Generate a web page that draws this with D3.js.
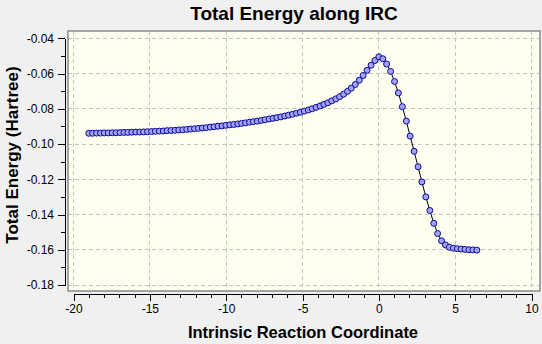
<!DOCTYPE html>
<html>
<head>
<meta charset="utf-8">
<script src="https://cdn.jsdelivr.net/npm/d3@7"></script>
<style>
  html, body { margin: 0; padding: 0; background: #f0f0f0; }
  svg { display: block; font-family: "Liberation Sans", Arial, sans-serif; }
</style>
</head>
<body>
<svg id="chart" width="542" height="344"></svg>
<script>
// IRC path: reaction coordinate (amu^1/2 bohr) and total energy (Hartree)
const ircCoord = [
  -19.00, -18.75, -18.49, -18.23, -17.98, -17.72, -17.46, -17.21, -16.95, -16.69,
  -16.44, -16.18, -15.92, -15.66, -15.41, -15.15, -14.89, -14.64, -14.38, -14.12,
  -13.87, -13.61, -13.35, -13.10, -12.84, -12.58, -12.33, -12.07, -11.81, -11.56,
  -11.30, -11.04, -10.79, -10.53, -10.27, -10.02, -9.76, -9.50, -9.24, -8.99,
  -8.73, -8.47, -8.22, -7.96, -7.70, -7.45, -7.19, -6.93, -6.68, -6.42,
  -6.16, -5.91, -5.65, -5.39, -5.14, -4.88, -4.62, -4.37, -4.11, -3.85,
  -3.60, -3.34, -3.08, -2.82, -2.57, -2.31, -2.05, -1.80, -1.54, -1.28,
  -1.03, -0.77, -0.51, -0.26, 0.00, 0.26, 0.51, 0.77, 1.03, 1.28,
  1.54, 1.80, 2.05, 2.31, 2.57, 2.82, 3.08, 3.34, 3.60, 3.85,
  4.11, 4.37, 4.62, 4.88, 5.14, 5.39, 5.65, 5.91, 6.16, 6.42
];
const totalEnergy = [
  -0.0939, -0.0939, -0.0938, -0.0938, -0.0937, -0.0937, -0.0936, -0.0936, -0.0935, -0.0934,
  -0.0934, -0.0933, -0.0932, -0.0932, -0.0931, -0.0930, -0.0929, -0.0928, -0.0927, -0.0926,
  -0.0924, -0.0923, -0.0922, -0.0920, -0.0919, -0.0917, -0.0915, -0.0913, -0.0911, -0.0909,
  -0.0907, -0.0904, -0.0902, -0.0899, -0.0897, -0.0894, -0.0891, -0.0889, -0.0886, -0.0883,
  -0.0880, -0.0876, -0.0873, -0.0870, -0.0866, -0.0862, -0.0858, -0.0854, -0.0850, -0.0846,
  -0.0841, -0.0836, -0.0831, -0.0825, -0.0820, -0.0813, -0.0807, -0.0800, -0.0792, -0.0784,
  -0.0775, -0.0766, -0.0755, -0.0744, -0.0731, -0.0717, -0.0701, -0.0683, -0.0662, -0.0638,
  -0.0611, -0.0582, -0.0553, -0.0526, -0.0505, -0.0516, -0.0546, -0.0588, -0.0645, -0.0710,
  -0.0788, -0.0870, -0.0955, -0.1041, -0.1129, -0.1215, -0.1300, -0.1377, -0.1450, -0.1508,
  -0.1549, -0.1573, -0.1586, -0.1591, -0.1594, -0.1596, -0.1598, -0.1600, -0.1601, -0.1602
];

// axis ticks
const xTicks = [-20, -15, -10, -5, 0, 5, 10];
const xMinorTicks = d3.range(-20, 11, 1);
const yTicks = [-0.04, -0.06, -0.08, -0.10, -0.12, -0.14, -0.16, -0.18];
const yMinorTicks = [-0.04, -0.05, -0.06, -0.07, -0.08, -0.09, -0.10, -0.11, -0.12, -0.13, -0.14, -0.15, -0.16, -0.17, -0.18];

const chartTitle = "Total Energy along IRC";
const xTitle = "Intrinsic Reaction Coordinate";
const yTitle = "Total Energy (Hartree)";

const points = ircCoord.map((c, i) => ({ c, e: totalEnergy[i] }));

const svg = d3.select("#chart");

const x = d3.scaleLinear().domain([-20, 10]).range([73.5, 531.5]);
const y = d3.scaleLinear().domain([-0.18, -0.04]).range([285, 38.3]);

// plot frame
const frame = { left: 68, top: 31, right: 540, bottom: 291 };
svg.append("rect")
  .attr("x", frame.left).attr("y", frame.top)
  .attr("width", frame.right - frame.left)
  .attr("height", frame.bottom - frame.top)
  .attr("fill", "#fffff0");

// dashed grid
const grid = svg.append("g")
  .attr("stroke", "#c4c4c4")
  .attr("stroke-width", 1)
  .attr("stroke-dasharray", "4,3")
  .attr("shape-rendering", "crispEdges");
grid.selectAll("line.v").data(xTicks).join("line")
  .attr("class", "v")
  .attr("x1", d => x(d)).attr("x2", d => x(d))
  .attr("y1", frame.top).attr("y2", frame.bottom);
grid.selectAll("line.h").data(yTicks).join("line")
  .attr("class", "h")
  .attr("x1", frame.left).attr("x2", frame.right)
  .attr("y1", d => y(d)).attr("y2", d => y(d));

svg.append("rect")
  .attr("x", frame.left).attr("y", frame.top)
  .attr("width", frame.right - frame.left)
  .attr("height", frame.bottom - frame.top)
  .attr("fill", "none")
  .attr("stroke", "#8a8a8a")
  .attr("stroke-width", 1.5);

// energy curve
const line = d3.line().x(d => x(d.c)).y(d => y(d.e));
svg.append("path")
  .datum(points)
  .attr("d", line)
  .attr("fill", "none")
  .attr("stroke", "#000")
  .attr("stroke-width", 1);

svg.append("g").selectAll("circle").data(points).join("circle")
  .attr("cx", d => x(d.c))
  .attr("cy", d => y(d.e))
  .attr("r", 3)
  .attr("fill", "#a3a3f5")
  .attr("stroke", "#0a0a9a")
  .attr("stroke-width", 1);

// axes
const yAxisX = 65;
const xAxisY = 294;

svg.append("g")
  .attr("transform", `translate(${yAxisX},0)`)
  .call(d3.axisLeft(y).tickValues(yMinorTicks).tickSize(4).tickSizeOuter(0).tickFormat(""))
  .call(g => g.select(".domain").remove());
svg.append("g")
  .attr("transform", `translate(${yAxisX},0)`)
  .call(d3.axisLeft(y).tickValues(yTicks).tickSize(7).tickSizeOuter(0).tickPadding(4)
    .tickFormat(d3.format(".2f")))
  .call(g => g.selectAll("text").attr("font-size", 12).attr("font-family", "Liberation Sans, Arial, sans-serif").attr("fill", "#000"));

svg.append("g")
  .attr("transform", `translate(0,${xAxisY})`)
  .call(d3.axisBottom(x).tickValues(xMinorTicks).tickSize(4).tickSizeOuter(0).tickFormat(""))
  .call(g => g.select(".domain").remove());
svg.append("g")
  .attr("transform", `translate(0,${xAxisY})`)
  .call(d3.axisBottom(x).tickValues(xTicks).tickSize(7).tickSizeOuter(0).tickPadding(3)
    .tickFormat(d3.format("d")))
  .call(g => g.selectAll("text").attr("font-size", 12).attr("font-family", "Liberation Sans, Arial, sans-serif").attr("fill", "#000"));

svg.selectAll(".tick line, .domain").attr("stroke", "#000").attr("shape-rendering", "crispEdges");
svg.selectAll("text").each(function() {
  const t = d3.select(this);
  t.text(t.text().replace("\u2212", "-"));
});

// titles
svg.append("text")
  .attr("x", 294).attr("y", 20)
  .attr("text-anchor", "middle")
  .attr("font-size", 19).attr("font-weight", "bold")
  .text(chartTitle);
svg.append("text")
  .attr("x", 303).attr("y", 338)
  .attr("text-anchor", "middle")
  .attr("font-size", 16.5).attr("font-weight", "bold")
  .text(xTitle);
svg.append("text")
  .attr("transform", "translate(18,155) rotate(-90)")
  .attr("text-anchor", "middle")
  .attr("font-size", 17).attr("font-weight", "bold")
  .text(yTitle);
</script>
</body>
</html>
